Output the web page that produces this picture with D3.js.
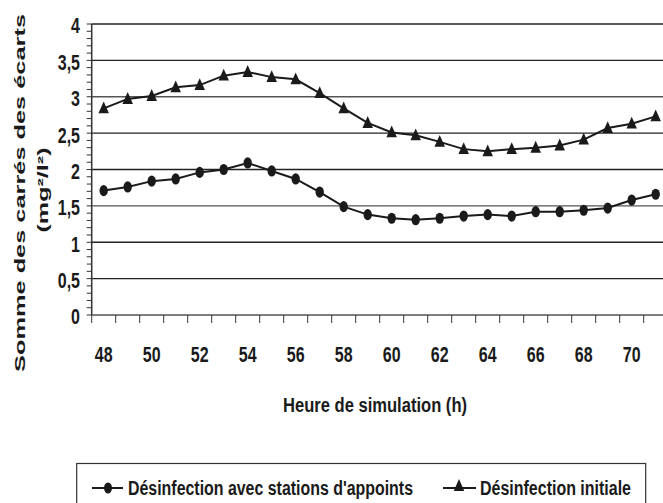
<!DOCTYPE html>
<html>
<head>
<meta charset="utf-8">
<script src="https://cdn.jsdelivr.net/npm/d3@7"></script>
<style>
body { margin: 0; background: #fff; }
svg { display: block; }
text { font-family: "Liberation Sans", Arial, sans-serif; font-weight: bold; fill: #1a1a1a; }
</style>
</head>
<body>
<svg id="chart" width="663" height="503"></svg>
<script>
// heures de simulation
var hours = [48,49,50,51,52,53,54,55,56,57,58,59,60,61,62,63,64,65,66,67,68,69,70,71];
// Désinfection avec stations d'appoints
var withStations = [1.71,1.76,1.84,1.87,1.96,2.00,2.09,1.98,1.87,1.69,1.49,1.38,1.33,1.31,1.33,1.36,1.38,1.36,1.42,1.42,1.44,1.47,1.58,1.66];
// Désinfection initiale
var initial = [2.84,2.97,3.01,3.13,3.16,3.29,3.34,3.27,3.24,3.05,2.84,2.64,2.51,2.47,2.38,2.28,2.25,2.28,2.30,2.33,2.41,2.57,2.63,2.73];
var yTicks = [0,0.5,1,1.5,2,2.5,3,3.5,4];
var xLabels = [48,50,52,54,56,58,60,62,64,66,68,70];
var seriesNames = ["Désinfection avec stations d'appoints", "Désinfection initiale"];

var svg = d3.select("#chart");
var pLeft = 91.7, pRight = 667.7, pTop = 24, pBottom = 315;
var sy = 1.35; // étirement vertical du texte

var x = d3.scaleBand().domain(hours).range([pLeft, pRight]);
var y = d3.scaleLinear().domain([0, 4]).range([pBottom, pTop]);

// grille
svg.append("g").selectAll("line")
    .data(yTicks)
    .join("line")
    .attr("x1", pLeft).attr("x2", pRight)
    .attr("y1", function(d){ return y(d); })
    .attr("y2", function(d){ return y(d); })
    .attr("stroke", function(d, i){ return (i % 3 == 0) ? "#555" : "#222"; })
    .attr("stroke-width", 1.3);

// axe Y avec petites graduations
var yMinor = d3.range(0, 41).map(function(i){ return i / 10; });
svg.append("g").selectAll("line")
    .data(yMinor)
    .join("line")
    .attr("x1", pLeft - 5).attr("x2", pLeft)
    .attr("y1", function(d){ return y(d); })
    .attr("y2", function(d){ return y(d); })
    .attr("stroke", "#333").attr("stroke-width", 1);

svg.append("line")
    .attr("x1", pLeft).attr("x2", pLeft)
    .attr("y1", pTop).attr("y2", pBottom)
    .attr("stroke", "#333").attr("stroke-width", 1.5);

svg.append("g").selectAll("text")
    .data(yTicks)
    .join("text")
    .attr("transform", function(d){ return "translate(80," + (y(d) + 2) + ") scale(1," + sy + ")"; })
    .attr("text-anchor", "end")
    .attr("dominant-baseline", "central")
    .attr("font-size", 16)
    .text(function(d){ return String(d).replace(".", ","); });

// axe X
var xTickPos = hours.map(function(h){ return x(h); });
xTickPos.push(pRight);
svg.append("g").selectAll("line")
    .data(xTickPos)
    .join("line")
    .attr("x1", function(d){ return d; }).attr("x2", function(d){ return d; })
    .attr("y1", pBottom).attr("y2", pBottom + 8)
    .attr("stroke", "#333").attr("stroke-width", 1);

svg.append("g").selectAll("text")
    .data(xLabels)
    .join("text")
    .attr("transform", function(d){ return "translate(" + (x(d) + x.bandwidth() / 2) + ",355) scale(1," + sy + ")"; })
    .attr("text-anchor", "middle")
    .attr("dominant-baseline", "central")
    .attr("font-size", 16)
    .text(function(d){ return d; });

svg.append("text")
    .attr("transform", "translate(375,405) scale(1," + sy + ")")
    .attr("text-anchor", "middle")
    .attr("dominant-baseline", "central")
    .attr("font-size", 15)
    .attr("textLength", 184)
    .attr("lengthAdjust", "spacingAndGlyphs")
    .text("Heure de simulation (h)");

// titre Y
svg.append("text")
    .attr("transform", "translate(20,193) rotate(-90)")
    .attr("text-anchor", "middle")
    .attr("dominant-baseline", "central")
    .attr("font-size", 14)
    .attr("textLength", 358)
    .attr("lengthAdjust", "spacingAndGlyphs")
    .text("Somme des carrés des écarts");
svg.append("text")
    .attr("transform", "translate(43,190) rotate(-90)")
    .attr("text-anchor", "middle")
    .attr("dominant-baseline", "central")
    .attr("font-size", 14)
    .attr("textLength", 85)
    .attr("lengthAdjust", "spacingAndGlyphs")
    .text("(mg²/l²)");

// courbes
var cx = function(d, i){ return x(hours[i]) + x.bandwidth() / 2; };
var line = d3.line().x(cx).y(function(d){ return y(d); });

svg.append("path").datum(initial)
    .attr("d", line).attr("fill", "none")
    .attr("stroke", "#1a1a1a").attr("stroke-width", 2);
svg.append("path").datum(withStations)
    .attr("d", line).attr("fill", "none")
    .attr("stroke", "#1a1a1a").attr("stroke-width", 2);

var tri = d3.symbol().type(d3.symbolTriangle).size(48);
svg.append("g").selectAll("path")
    .data(initial)
    .join("path")
    .attr("d", tri)
    .attr("transform", function(d, i){ return "translate(" + cx(d, i) + "," + (y(d) + 1) + ") scale(1,1.3)"; })
    .attr("fill", "#1a1a1a");

svg.append("g").selectAll("ellipse")
    .data(withStations)
    .join("ellipse")
    .attr("cx", cx)
    .attr("cy", function(d){ return y(d); })
    .attr("rx", 4.2).attr("ry", 5.6)
    .attr("fill", "#1a1a1a");

// légende
svg.append("rect")
    .attr("x", 76.7).attr("y", 463.5)
    .attr("width", 569).attr("height", 50)
    .attr("fill", "none").attr("stroke", "#333").attr("stroke-width", 1.2);

var lg = svg.append("g");
lg.append("line").attr("x1", 92).attr("x2", 123).attr("y1", 488).attr("y2", 488)
    .attr("stroke", "#1a1a1a").attr("stroke-width", 2);
lg.append("ellipse").attr("cx", 108).attr("cy", 488).attr("rx", 4).attr("ry", 5.5).attr("fill", "#1a1a1a");
lg.append("line").attr("x1", 443).attr("x2", 476).attr("y1", 488).attr("y2", 488)
    .attr("stroke", "#1a1a1a").attr("stroke-width", 2);
lg.append("path").attr("d", tri).attr("transform", "translate(459,487) scale(1,1.3)").attr("fill", "#1a1a1a");

lg.append("text")
    .attr("transform", "translate(128,488) scale(1," + sy + ")")
    .attr("dominant-baseline", "central")
    .attr("font-size", 15)
    .attr("textLength", 285)
    .attr("lengthAdjust", "spacingAndGlyphs")
    .text(seriesNames[0]);
lg.append("text")
    .attr("transform", "translate(480,488) scale(1," + sy + ")")
    .attr("dominant-baseline", "central")
    .attr("font-size", 15)
    .attr("textLength", 151)
    .attr("lengthAdjust", "spacingAndGlyphs")
    .text(seriesNames[1]);
</script>
</body>
</html>
